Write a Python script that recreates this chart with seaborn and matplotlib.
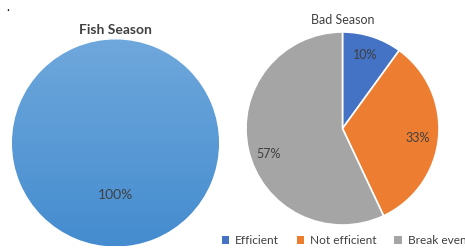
import matplotlib
matplotlib.use('Agg')
import matplotlib.pyplot as plt
import seaborn as sns
import numpy as np
from matplotlib.patches import Patch

sns.set_theme(style='white')
plt.rcParams['font.family'] = ['Lato', 'DejaVu Sans']

# Data
fish_labels = ['Efficient']
fish_values = [100]
bad_labels = ['Efficient', 'Not efficient', 'Break even']
bad_values = [10, 33, 57]

colors = ['#4472C4', '#ED7D31', '#A5A5A5']
text_col = '#404040'

W, H = 465, 248
fig = plt.figure(figsize=(W / 100, H / 100), dpi=100, facecolor='white')


def ax_at(cx, cy, r):
    # cx, cy in pixel coords from top-left
    return fig.add_axes([(cx - r) / W, (H - cy - r) / H, 2 * r / W, 2 * r / H])


# Left pie: Fish Season (gradient fill)
ax1 = ax_at(115.5, 143, 103.5)
wedges, texts = ax1.pie(fish_values, colors=['#5B9BD5'], startangle=90,
                        counterclock=False, radius=1,
                        wedgeprops={'edgecolor': 'white', 'linewidth': 0.8})
grad = np.linspace(0, 1, 256).reshape(-1, 1)
cmap = matplotlib.colors.LinearSegmentedColormap.from_list('g', ['#6FA8DC', '#448CCF'])
im = ax1.imshow(grad, extent=(-1, 1, -1, 1), cmap=cmap, aspect='auto', zorder=2)
im.set_clip_path(wedges[0])
ax1.text(0, -0.5, f'{fish_values[0]}%', ha='center', va='center',
         fontsize=10, color=text_col, zorder=3)
ax1.set_xlim(-1, 1)
ax1.set_ylim(-1, 1)
ax1.set_aspect('equal')
ax1.axis('off')
fig.text(115.5 / W, 1 - 30 / H, 'Fish Season', ha='center', va='center',
         fontsize=10, fontweight='bold', color=text_col)
fig.text(8 / W, 1 - 1 / H, '.', ha='center', va='top', fontsize=9, color='black')

# Right pie: Bad Season
ax2 = ax_at(342.5, 128.5, 96.5)
wedges2, _ = ax2.pie(bad_values, colors=colors, startangle=90, counterclock=False,
                     radius=1, wedgeprops={'edgecolor': 'white', 'linewidth': 1.2})
label_pos = [(0.23, 0.76), (0.78, -0.10), (-0.77, -0.26)]
for v, (x, y) in zip(bad_values, label_pos):
    ax2.text(x, y, f'{v}%', ha='center', va='center', fontsize=9, color=text_col)
ax2.set_xlim(-1, 1)
ax2.set_ylim(-1, 1)
ax2.set_aspect('equal')
ax2.axis('off')
fig.text(342.5 / W, 1 - 20 / H, 'Bad Season', ha='center', va='center',
         fontsize=9, color=text_col)

handles = [Patch(facecolor=c, edgecolor='none') for c in colors]
leg = fig.legend(handles, bad_labels, loc='center', bbox_to_anchor=(344 / W, 1 - 241 / H),
                 ncol=3, frameon=False, fontsize=8.6, handlelength=0.6, handleheight=0.6,
                 handletextpad=0.5, columnspacing=1.5, labelcolor=text_col,
                 borderpad=0, borderaxespad=0)

fig.savefig('out.png', dpi=100, facecolor='white')
